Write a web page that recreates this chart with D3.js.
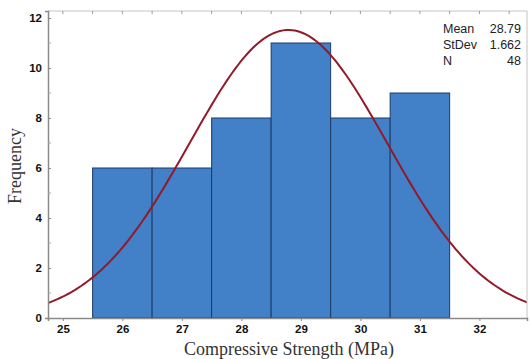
<!DOCTYPE html>
<html>
<head>
<meta charset="utf-8">
<script src="https://cdn.jsdelivr.net/npm/d3@7"></script>
<style>
  body { margin: 0; background: #fff; }
  svg { display: block; }
</style>
</head>
<body>
<div id="chart"></div>
<script>
// histogram bins (MPa) and counts
var binStarts = [25.5, 26.5, 27.5, 28.5, 29.5, 30.5];
var binWidth = 1;
var counts = [6, 6, 8, 11, 8, 9];
var xTicks = [25, 26, 27, 28, 29, 30, 31, 32];
var yTicks = [0, 2, 4, 6, 8, 10, 12];
// fit stats shown in the box
var statLabels = ['Mean', 'StDev', 'N'];
var statValues = ['28.79', '1.662', '48'];
var mean = 28.79, stdev = 1.662, n = 48;

var width = 531, height = 359;
var margin = {top: 11, right: 4, bottom: 41, left: 48};

var svg = d3.select('#chart').append('svg')
  .attr('width', width)
  .attr('height', height);

var x = d3.scaleLinear().domain([24.75, 32.8]).range([margin.left, width - margin.right]);
var y = d3.scaleLinear().domain([0, 12.28]).range([height - margin.bottom, margin.top]);

svg.append('clipPath').attr('id', 'plotclip')
  .append('rect')
  .attr('x', margin.left).attr('y', margin.top)
  .attr('width', width - margin.right - margin.left)
  .attr('height', height - margin.bottom - margin.top);

// bars
svg.append('g').selectAll('rect')
  .data(counts)
  .enter().append('rect')
    .attr('x', function(d, i) { return x(binStarts[i]); })
    .attr('y', function(d) { return y(d); })
    .attr('width', function(d, i) { return x(binStarts[i] + binWidth) - x(binStarts[i]); })
    .attr('height', function(d) { return y(0) - y(d); })
    .attr('fill', '#4280c8')
    .attr('stroke', '#1d3a66')
    .attr('stroke-width', 1);

// fitted normal curve from the stats
var curvePts = d3.range(24.6, 33.0, 0.05).map(function(v) {
  var z = (v - mean) / stdev;
  return [v, n * binWidth * Math.exp(-0.5 * z * z) / (stdev * Math.sqrt(2 * Math.PI))];
});
svg.append('path')
  .datum(curvePts)
  .attr('clip-path', 'url(#plotclip)')
  .attr('fill', 'none')
  .attr('stroke', '#931a28')
  .attr('stroke-width', 2)
  .attr('d', d3.line().x(function(d) { return x(d[0]); }).y(function(d) { return y(d[1]); }));

// frame
var frame = '#8a8a8a';
svg.append('line').attr('x1', margin.left).attr('x2', width - margin.right)
  .attr('y1', margin.top).attr('y2', margin.top).attr('stroke', '#c4c4c4');
svg.append('line').attr('x1', width - margin.right).attr('x2', width - margin.right)
  .attr('y1', margin.top).attr('y2', height - margin.bottom).attr('stroke', '#c4c4c4');

// top ticks every half unit
svg.append('g').selectAll('line')
  .data(d3.range(25, 33, 0.5))
  .enter().append('line')
    .attr('x1', function(d) { return x(d); }).attr('x2', function(d) { return x(d); })
    .attr('y1', margin.top).attr('y2', margin.top + 3)
    .attr('stroke', '#9a9a9a');

var xAxis = svg.append('g')
  .attr('transform', 'translate(0,' + y(0) + ')')
  .call(d3.axisBottom(x).tickValues(xTicks).tickFormat(d3.format('d')).tickSize(3).tickPadding(4));
var yAxis = svg.append('g')
  .attr('transform', 'translate(' + margin.left + ',0)')
  .call(d3.axisLeft(y).tickValues(yTicks).tickSize(3).tickPadding(3));

// minor y ticks
svg.append('g').selectAll('line')
  .data([1, 3, 5, 7, 9, 11])
  .enter().append('line')
    .attr('x1', margin.left).attr('x2', margin.left + 3)
    .attr('y1', function(d) { return y(d); }).attr('y2', function(d) { return y(d); })
    .attr('stroke', '#a8a8a8');

[xAxis, yAxis].forEach(function(ax) {
  ax.select('.domain').attr('stroke', frame).attr('stroke-width', 1.5);
  ax.selectAll('.tick line').attr('stroke', frame);
  ax.selectAll('.tick text')
    .attr('fill', '#111')
    .style('font-family', 'Liberation Sans, Arial, sans-serif')
    .style('font-weight', 'bold')
    .style('font-size', '11.5px');
});
yAxis.selectAll('.tick line').attr('x2', 3);

// axis titles
svg.append('text')
  .attr('x', 289).attr('y', 355)
  .attr('text-anchor', 'middle')
  .style('font-family', 'Liberation Serif, Times New Roman, serif')
  .style('font-size', '18px')
  .attr('fill', '#333')
  .text('Compressive Strength (MPa)');

svg.append('text')
  .attr('transform', 'translate(21,' + 166 + ') rotate(-90)')
  .attr('text-anchor', 'middle')
  .style('font-family', 'Liberation Serif, Times New Roman, serif')
  .style('font-size', '18px')
  .attr('fill', '#333')
  .text('Frequency');

// stats box
var stats = svg.append('g')
  .style('font-family', 'Liberation Sans, Arial, sans-serif')
  .style('font-size', '12.5px')
  .attr('fill', '#222');
statLabels.forEach(function(lbl, i) {
  stats.append('text').attr('x', 443).attr('y', 33 + i * 16).text(lbl);
  stats.append('text').attr('x', 521).attr('y', 33 + i * 16)
    .attr('text-anchor', 'end').text(statValues[i]);
});
</script>
</body>
</html>
